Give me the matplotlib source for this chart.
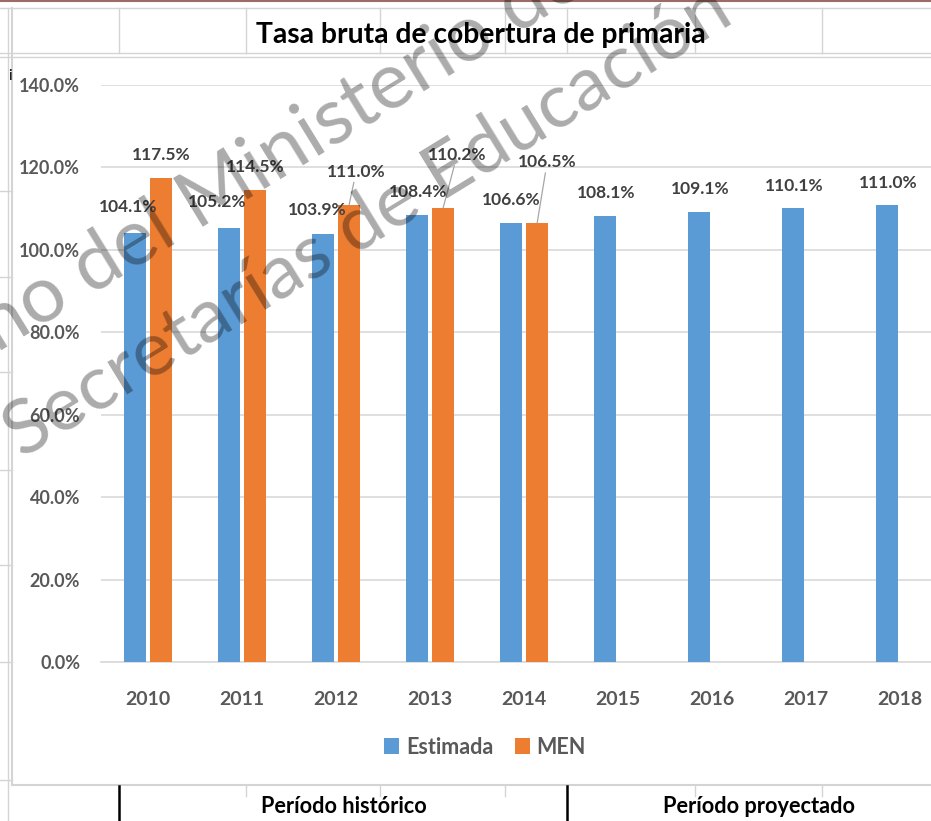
import matplotlib
matplotlib.use('Agg')
import matplotlib.pyplot as plt
from matplotlib.lines import Line2D
import numpy as np

# data
years = ['2010', '2011', '2012', '2013', '2014', '2015', '2016', '2017', '2018']
estimada = [104.1, 105.2, 103.9, 108.4, 106.6, 108.1, 109.1, 110.1, 111.0]
men = [117.5, 114.5, 111.0, 110.2, 106.5]
yticks = [0, 20, 40, 60, 80, 100, 120, 140]

# label offsets from bar tops (pixels)
off_est = [(-7, 26), (-12, 26), (-6, 24), (1, 23), (0, 23), (1, 23), (1, 23), (1, 22), (1, 22)]
off_men = [(0, 23), (0, 23), (7, 33), (14, 53), (10, 61)]
leader_men = [False, False, True, True, True]

W, H = 931, 821
sans = ['Lato', 'DejaVu Sans']
plt.rcParams['font.family'] = sans

fig = plt.figure(figsize=(W / 100, H / 100), dpi=100)
fig.patch.set_facecolor('white')


def px(x, y):
    return x / W, 1 - y / H


def hline(y, x0, x1, color='#d4d4d4', lw=1.0):
    fig.add_artist(Line2D([x0 / W, x1 / W], [1 - y / H, 1 - y / H], color=color, lw=lw))


def vline(x, y0, y1, color='#d4d4d4', lw=1.0):
    fig.add_artist(Line2D([x / W, x / W], [1 - y0 / H, 1 - y1 / H], color=color, lw=lw))


def fit(t, target):
    r = fig.canvas.get_renderer()
    w = t.get_window_extent(r).width
    t.set_fontsize(t.get_fontsize() * target / w)


# spreadsheet cells around the chart
hline(1, 0, W, color='#9c6b64', lw=1.5)
hline(8, 0, W)
hline(53, 0, W)
hline(57, 0, W)
for x in [119, 246, 380, 505, 567, 695, 822]:
    vline(x, 8, 53)
vline(8, 8, H)
vline(12, 8, 785, lw=1.5)
for y in [191, 277, 372, 470, 565, 662, 780]:
    hline(y, 0, 12)
hline(785, 12, W, lw=1.5)
for x in [246, 380, 505, 695, 822]:
    vline(x, 786, 796)
vline(119, 786, H, color='black', lw=1.8)
vline(567, 786, H, color='black', lw=1.8)

title = fig.text(*px(481, 35), 'Tasa bruta de cobertura de primaria', ha='center', va='center',
                 fontsize=20, fontweight='bold', color='black')
fig.text(*px(10, 76), 'i', ha='center', va='center', fontsize=11, color='black')
p1 = fig.text(*px(344, 806), 'Período histórico', ha='center', va='center',
              fontsize=16, fontweight='bold', color='black')
p2 = fig.text(*px(759, 806), 'Período proyectado', ha='center', va='center',
              fontsize=16, fontweight='bold', color='black')
fit(title, 449)
fit(p1, 166)
fit(p2, 193)

ax = fig.add_axes([101 / W, 1 - 662 / H, 846 / W, 577 / H])
ax.set_facecolor('white')
x = np.arange(len(years))
bw = 0.235
b1 = ax.bar(x - 0.14, estimada, width=bw, color='#5B9BD5', label='Estimada', zorder=3)
b2 = ax.bar(x[:len(men)] + 0.14, men, width=bw, color='#ED7D31', label='MEN', zorder=3)

ax.set_xlim(-0.5, len(years) - 0.5)
ax.set_ylim(0, 140)
ax.set_yticks(yticks)
ax.set_yticklabels(['%.1f%%' % v for v in yticks])
ax.set_xticks(x)
ax.set_xticklabels(years)
ax.yaxis.grid(True, color='#d9d9d9', lw=1.2)
ax.set_axisbelow(True)
for s in ['top', 'right', 'left']:
    ax.spines[s].set_visible(False)
ax.spines['bottom'].set_color('#d9d9d9')
ax.spines['bottom'].set_linewidth(1.2)
ax.tick_params(axis='both', length=0, colors='#595959')
ax.tick_params(axis='y', pad=15, labelsize=13)
ax.tick_params(axis='x', pad=21, labelsize=14)
for t in ax.get_xticklabels() + ax.get_yticklabels():
    t.set_fontweight('bold')

for rect, v, off in zip(b1, estimada, off_est):
    ax.annotate('%.1f%%' % v, (rect.get_x() + rect.get_width() / 2, v), xytext=off,
                textcoords='offset pixels', ha='center', va='center',
                fontsize=12.5, fontweight='bold', color='#404040', zorder=5)
for rect, v, off, lead in zip(b2, men, off_men, leader_men):
    ap = dict(arrowstyle='-', color='#a6a6a6', lw=0.9, shrinkA=0, shrinkB=0) if lead else None
    ax.annotate('%.1f%%' % v, (rect.get_x() + rect.get_width() / 2, v), xytext=off,
                textcoords='offset pixels', ha='center', va='center',
                fontsize=12.5, fontweight='bold', color='#404040', zorder=5,
                arrowprops=ap)

fig.legend(handles=[b1, b2], labels=['Estimada', 'MEN'], loc='center',
           bbox_to_anchor=px(485, 747), ncol=2, frameon=False,
           prop=dict(family=sans, weight='bold', size=15.5), labelcolor='#595959',
           handlelength=0.7, handleheight=0.7, handletextpad=0.3, columnspacing=1.0)

# watermark
wm = dict(rotation=31.5, ha='center', va='center', rotation_mode='anchor',
          fontsize=50, color='black', alpha=0.33, zorder=10)
w1 = fig.text(*px(282, 152), 'no del Ministerio de', **wm)
w2 = fig.text(*px(367, 222), 'Secretarías de Educación', **wm)
w1.set_rotation(0)
w2.set_rotation(0)
fit(w1, 694)
fit(w2, 836)
w1.set_rotation(31.5)
w2.set_rotation(31.5)

fig.savefig('out.png', dpi=100)
